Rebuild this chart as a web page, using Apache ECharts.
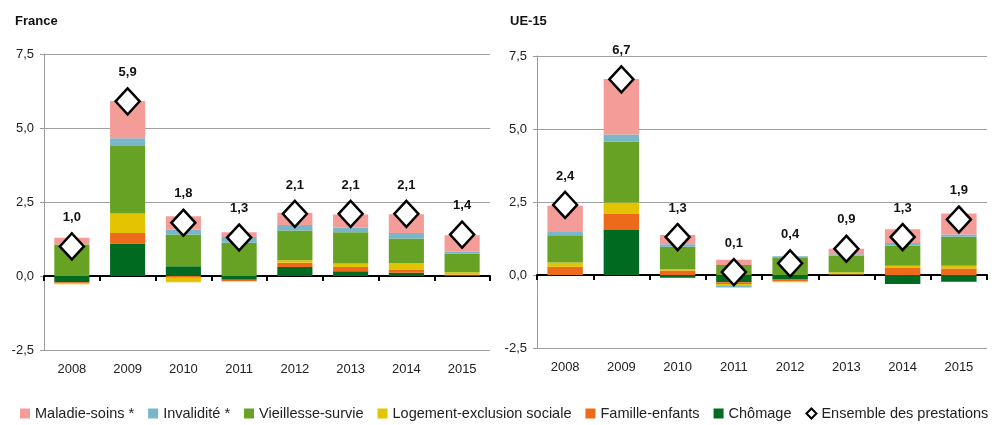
<!DOCTYPE html>
<html>
<head>
<meta charset="utf-8">
<script src="https://cdn.jsdelivr.net/npm/echarts@6/dist/echarts.min.js"></script>
<style>
  html, body { margin: 0; padding: 0; background: #fff; }
  #chart { width: 996px; height: 425px; }
</style>
</head>
<body>
<div id="chart"></div>
<script>
const annees = ["2008", "2009", "2010", "2011", "2012", "2013", "2014", "2015"];

// France, contributions en points
const maladieFR = [0.23, 1.26, 0.45, 0.16, 0.42, 0.45, 0.64, 0.56];
const invaliditeFR = [0.0, 0.26, 0.17, 0.20, 0.18, 0.15, 0.18, 0.06];
const vieillesseFR = [1.06, 2.28, 1.07, 1.12, 1.01, 1.06, 0.84, 0.63];
const logementFR = [-0.03, 0.66, -0.15, -0.02, 0.08, 0.12, 0.23, 0.08];
const familleFR = [-0.04, 0.35, -0.06, -0.04, 0.15, 0.14, 0.09, 0.03];
const chomageFR = [-0.21, 1.10, 0.33, -0.13, 0.30, 0.16, 0.11, 0.02];
const ensembleFR = [1.0, 5.9, 1.8, 1.3, 2.1, 2.1, 2.1, 1.4];

// UE-15
const maladieUE = [0.90, 1.90, 0.32, 0.18, 0.0, 0.19, 0.47, 0.72];
const invaliditeUE = [0.11, 0.24, 0.08, -0.08, 0.06, 0.05, 0.10, 0.08];
const vieillesseUE = [0.93, 2.09, 0.77, 0.34, 0.58, 0.57, 0.68, 0.99];
const logementUE = [0.15, 0.39, 0.05, -0.04, -0.04, 0.05, 0.08, 0.10];
const familleUE = [0.28, 0.55, 0.15, -0.06, -0.07, 0.02, 0.24, 0.22];
const chomageUE = [0.0, 1.54, -0.09, -0.25, -0.14, 0.02, -0.31, -0.23];
const ensembleUE = [2.4, 6.7, 1.3, 0.1, 0.4, 0.9, 1.3, 1.9];

const yTicks = [-2.5, 0, 2.5, 5, 7.5];

const police = "'Liberation Sans', Arial, sans-serif";
const couleurs = {
  "Maladie-soins *": "#f39c98",
  "Invalidité *": "#78b6ca",
  "Vieillesse-survie": "#67a224",
  "Logement-exclusion sociale": "#e2c400",
  "Famille-enfants": "#ec6a1a",
  "Chômage": "#006a21",
};

function virgule(v) {
  return v.toFixed(1).replace(".", ",");
}

function barres(idx, donnees) {
  // ordre d'empilement : du bas vers le haut
  let noms = ["Chômage", "Famille-enfants", "Logement-exclusion sociale", "Vieillesse-survie", "Invalidité *", "Maladie-soins *"];
  return noms.map((nom) => ({
    name: nom,
    type: "bar",
    xAxisIndex: idx * 2,
    yAxisIndex: idx,
    stack: "s" + idx,
    barCategoryGap: "37%",
    itemStyle: { color: couleurs[nom] },
    data: donnees[nom],
  }));
}

function losanges(idx, data) {
  return {
    name: "Ensemble des prestations",
    type: "scatter",
    xAxisIndex: idx * 2,
    yAxisIndex: idx,
    symbol: "diamond",
    symbolSize: [24, 26],
    z: 10,
    itemStyle: { color: "#fff", opacity: 1, borderColor: "#000", borderWidth: 2.5 },
    label: {
      show: true,
      position: "top",
      distance: 8,
      fontFamily: police,
      fontSize: 13,
      fontWeight: "bold",
      color: "#111",
      formatter: (p) => virgule(p.value),
    },
    data: data,
  };
}

// axe du zéro (trait noir + graduations) et axe des libellés en bas
function axesX(idx) {
  return [
    {
      type: "category",
      gridIndex: idx,
      data: annees,
      position: "bottom",
      axisLine: { onZero: true, lineStyle: { color: "#000", width: 2 } },
      axisTick: { show: true, length: 5, lineStyle: { color: "#000", width: 2 } },
      axisLabel: { show: false },
    },
    {
      type: "category",
      gridIndex: idx,
      data: annees,
      position: "bottom",
      axisLine: { show: false, onZero: false },
      axisTick: { show: false },
      axisLabel: { margin: 13, fontFamily: police, fontSize: 13, color: "#222" },
    },
  ];
}

function axeY(idx) {
  return {
    type: "value",
    gridIndex: idx,
    min: yTicks[0],
    max: yTicks[yTicks.length - 1],
    interval: 2.5,
    axisLine: { show: true, lineStyle: { color: "#999" } },
    axisTick: { show: true, length: 4, lineStyle: { color: "#999" } },
    splitLine: { lineStyle: { color: "#a0a0a0" } },
    axisLabel: { margin: 10, fontFamily: police, fontSize: 13, color: "#222", formatter: (v) => virgule(v) },
  };
}

let myChart = echarts.init(document.getElementById("chart"));

let option = {
  animation: false,
  title: [
    { text: "France", left: 10, top: 10, textStyle: { fontFamily: police, fontSize: 13, fontWeight: "bold", color: "#111" } },
    { text: "UE-15", left: 505, top: 10, textStyle: { fontFamily: police, fontSize: 13, fontWeight: "bold", color: "#111" } },
  ],
  legend: {
    top: 406,
    left: 20,
    right: 0,
    padding: 0,
    itemWidth: 10,
    itemHeight: 10,
    itemGap: 14,
    textStyle: { fontFamily: police, fontSize: 14.5, color: "#222" },
    data: [
      { name: "Maladie-soins *", icon: "rect" },
      { name: "Invalidité *", icon: "rect" },
      { name: "Vieillesse-survie", icon: "rect" },
      { name: "Logement-exclusion sociale", icon: "rect" },
      { name: "Famille-enfants", icon: "rect" },
      { name: "Chômage", icon: "rect" },
      { name: "Ensemble des prestations", icon: "diamond", itemStyle: { color: "#fff", opacity: 1, borderColor: "#000", borderWidth: 2 } },
    ],
  },
  grid: [
    { left: 44, right: 506, top: 54, bottom: 75, outerBoundsMode: "none" },
    { left: 537, right: 9, top: 56, bottom: 77, outerBoundsMode: "none" },
  ],
  xAxis: [...axesX(0), ...axesX(1)],
  yAxis: [axeY(0), axeY(1)],
  series: [
    ...barres(0, {
      "Maladie-soins *": maladieFR,
      "Invalidité *": invaliditeFR,
      "Vieillesse-survie": vieillesseFR,
      "Logement-exclusion sociale": logementFR,
      "Famille-enfants": familleFR,
      "Chômage": chomageFR,
    }),
    losanges(0, ensembleFR),
    ...barres(1, {
      "Maladie-soins *": maladieUE,
      "Invalidité *": invaliditeUE,
      "Vieillesse-survie": vieillesseUE,
      "Logement-exclusion sociale": logementUE,
      "Famille-enfants": familleUE,
      "Chômage": chomageUE,
    }),
    losanges(1, ensembleUE),
  ],
};

option && myChart.setOption(option);
</script>
</body>
</html>
